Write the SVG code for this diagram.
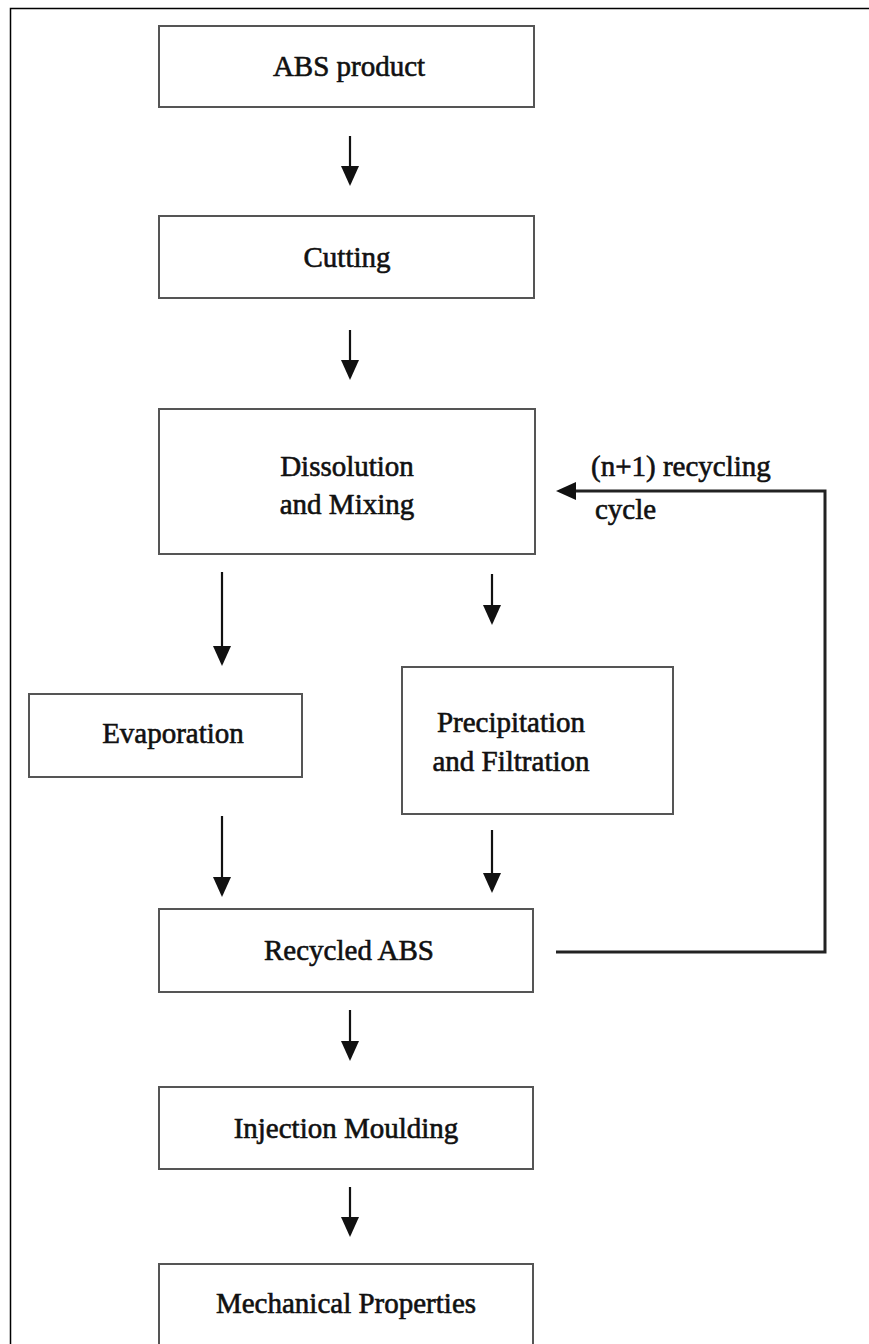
<svg xmlns="http://www.w3.org/2000/svg" width="869" height="1344" viewBox="0 0 869 1344">
<style>
.box{fill:#fff;stroke:#555;stroke-width:2}
.lbl{font-family:"Liberation Serif","Times New Roman",serif;font-size:29px;fill:#111;stroke:#111;stroke-width:0.6;text-anchor:middle}
.note{font-family:"Liberation Serif","Times New Roman",serif;font-size:29px;fill:#111;stroke:#111;stroke-width:0.6}
.arr{stroke:#111;stroke-width:2.2;fill:none;marker-end:url(#ah)}
.fb{stroke:#222;stroke-width:3;fill:none;marker-end:url(#ah)}
</style>
<defs>
<marker id="ah" viewBox="0 0 20 18" refX="15" refY="9" markerWidth="20" markerHeight="18" markerUnits="userSpaceOnUse" orient="auto">
<path d="M0,0 L20,9 L0,18 z" fill="#111"/>
</marker>
</defs>
<rect width="869" height="1344" fill="#fff"/>
<path d="M10.5,1344 V8.5 H869" fill="none" stroke="#000" stroke-width="1.5"/>
<g id="n-abs-product"><rect class="box" x="159" y="26" width="375" height="81"/><text class="lbl" x="349" y="76">ABS product</text></g>
<g id="n-cutting"><rect class="box" x="159" y="216" width="375" height="82"/><text class="lbl" x="347" y="267">Cutting</text></g>
<g id="n-dissolution"><rect class="box" x="159" y="409" width="376" height="145"/><text class="lbl" x="347" y="476">Dissolution</text><text class="lbl" x="347" y="514">and Mixing</text></g>
<g id="n-evaporation"><rect class="box" x="29" y="694" width="273" height="83"/><text class="lbl" x="173" y="743">Evaporation</text></g>
<g id="n-precipitation"><rect class="box" x="402" y="667" width="271" height="147"/><text class="lbl" x="511" y="732">Precipitation</text><text class="lbl" x="511" y="771">and Filtration</text></g>
<g id="n-recycled"><rect class="box" x="159" y="909" width="374" height="83"/><text class="lbl" x="349" y="960">Recycled ABS</text></g>
<g id="n-injection"><rect class="box" x="159" y="1087" width="374" height="82"/><text class="lbl" x="346" y="1138">Injection Moulding</text></g>
<g id="n-mechanical"><rect class="box" x="159" y="1264" width="374" height="84"/><text class="lbl" x="346" y="1313">Mechanical Properties</text></g>
<g id="connectors">
<line class="arr" x1="350" y1="136" x2="350" y2="181"/>
<line class="arr" x1="350" y1="330" x2="350" y2="375"/>
<line class="arr" x1="222" y1="572" x2="222" y2="661"/>
<line class="arr" x1="492" y1="574" x2="492" y2="620"/>
<line class="arr" x1="222" y1="816" x2="222" y2="892"/>
<line class="arr" x1="492" y1="830" x2="492" y2="888"/>
<line class="arr" x1="350" y1="1010" x2="350" y2="1056"/>
<line class="arr" x1="350" y1="1187" x2="350" y2="1232"/>
<polyline class="fb" points="556,952 825,952 825,491 561,491"/>
<text class="note" x="591" y="476">(n+1) recycling</text>
<text class="note" x="595" y="519">cycle</text>
</g>
</svg>
